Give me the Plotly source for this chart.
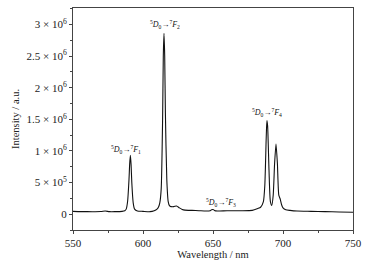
import plotly.graph_objects as go

wavelength = [550, 560, 570, 573, 576, 580, 585, 587, 588, 589, 590, 590.5, 591, 591.5, 592, 593, 594, 596,
              600, 605, 608, 610, 611, 612, 613, 614, 614.5, 615, 615.5, 616, 617, 618, 619, 620, 622, 624,
              626, 628, 630, 635, 640, 645, 648, 649, 650, 651, 653, 660, 670, 678, 682, 684, 686, 687, 688,
              688.5, 689, 690, 691, 692, 693, 694, 695, 696, 697, 698, 699, 700, 702, 705, 710, 720, 730,
              740, 750]
intensity_m = [0.045, 0.04, 0.042, 0.05, 0.04, 0.04, 0.045, 0.055, 0.08, 0.2, 0.55, 0.8, 0.93, 0.78, 0.5, 0.18,
               0.08, 0.05, 0.045, 0.04, 0.055, 0.08, 0.11, 0.18, 0.4, 1.5, 2.5, 2.86, 2.5, 1.6, 0.55, 0.2,
               0.13, 0.12, 0.12, 0.13, 0.1, 0.075, 0.065, 0.06, 0.055, 0.05, 0.055, 0.07, 0.075, 0.06, 0.05,
               0.055, 0.055, 0.06, 0.09, 0.11, 0.2, 0.45, 1.2, 1.48, 1.4, 0.7, 0.2, 0.14, 0.3, 0.8, 1.11,
               0.8, 0.3, 0.24, 0.15, 0.1, 0.07, 0.06, 0.05, 0.045, 0.04, 0.035, 0.03]
intensity = [v * 1e6 for v in intensity_m]

ytick_vals = [0, 5e5, 1e6, 1.5e6, 2e6, 2.5e6, 3e6]
ytick_text = ["0", "5 × 10<sup>5</sup>", "1 × 10<sup>6</sup>", "1.5 × 10<sup>6</sup>",
              "2 × 10<sup>6</sup>", "2.5 × 10<sup>6</sup>", "3 × 10<sup>6</sup>"]
xtick_vals = [550, 600, 650, 700, 750]

label_x = [588, 615.5, 655.5, 688.5]
label_y = [1.03e6, 3.0e6, 0.18e6, 1.6e6]
label_text = ["<sup>5</sup><i>D</i><sub>0</sub>→<sup>7</sup><i>F</i><sub>1</sub>",
              "<sup>5</sup><i>D</i><sub>0</sub>→<sup>7</sup><i>F</i><sub>2</sub>",
              "<sup>5</sup><i>D</i><sub>0</sub>→<sup>7</sup><i>F</i><sub>3</sub>",
              "<sup>5</sup><i>D</i><sub>0</sub>→<sup>7</sup><i>F</i><sub>4</sub>"]

SERIF = "Liberation Serif, Times New Roman, serif"

fig = go.Figure()
fig.add_trace(go.Scatter(x=wavelength, y=intensity, mode="lines",
                         line=dict(color="#111111", width=1.1, shape="spline", smoothing=0.6),
                         showlegend=False, hoverinfo="skip"))

for lx, ly, lt in zip(label_x, label_y, label_text):
    fig.add_annotation(x=lx, y=ly, text=lt, showarrow=False,
                       font=dict(family=SERIF, size=8, color="#111111"))

axis_common = dict(showline=True, linecolor="#444444", linewidth=1, mirror=True,
                   ticks="outside", ticklen=3, tickcolor="#444444", showgrid=False, zeroline=False,
                   tickfont=dict(family=SERIF, size=11, color="#222222"),
                   minor=dict(ticks="outside", ticklen=2, tickcolor="#444444"))

fig.update_xaxes(range=[550, 750], tickvals=xtick_vals,
                 title=dict(text="Wavelength / nm", font=dict(family=SERIF, size=10.5, color="#222222"),
                            standoff=2),
                 **axis_common)
fig.update_xaxes(minor=dict(dtick=25))
fig.update_yaxes(range=[-0.25e6, 3.26e6], tickvals=ytick_vals, ticktext=ytick_text,
                 title=dict(text="Intensity / a.u.", font=dict(family=SERIF, size=10.5, color="#222222"),
                            standoff=4),
                 **axis_common)
fig.update_yaxes(minor=dict(tickvals=[2.5e5, 7.5e5, 1.25e6, 1.75e6, 2.25e6, 2.75e6, 3.25e6, -2.5e5]))

fig.update_layout(width=369, height=266, margin=dict(l=73, r=16, t=7, b=32),
                  plot_bgcolor="white", paper_bgcolor="white")

fig.write_html("out.html", config={"displayModeBar": False},
               post_script="document.body.style.margin='0';document.body.style.overflow='hidden';")
